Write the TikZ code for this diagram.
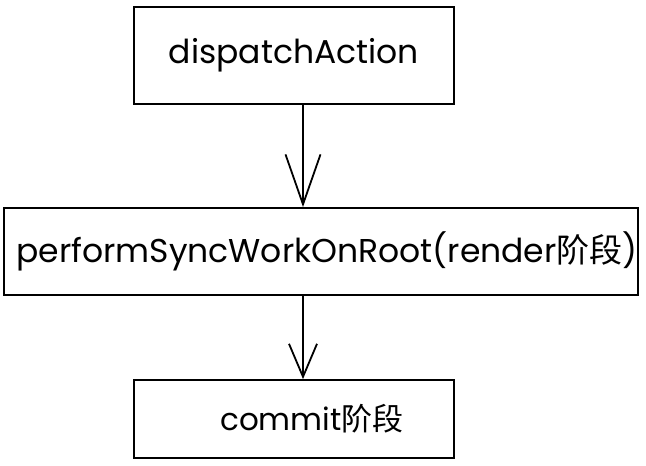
\documentclass[tikz,border=0pt]{standalone}
\usepackage{fontspec}
\setmainfont{Poppins}
\newfontfamily\cjk{Noto Sans CJK SC}
\usetikzlibrary{arrows.meta}

\tikzset{
  stage/.style={draw=black,line width=1.8pt,inner sep=0pt,font=\fontsize{33}{38}\selectfont},
  flow/.style={line width=1.5pt,-{Straight Barb[length=50pt,width=35pt,line width=1.8pt]}},
  flowshort/.style={line width=1.5pt,-{Straight Barb[length=33pt,width=28pt,line width=1.8pt]}}
}

\begin{document}
\begin{tikzpicture}[x=1pt,y=-1pt]
    \useasboundingbox (0,0) rectangle (646,466);

    \node[stage,minimum width=320pt,minimum height=97pt] (dispatch) at (294,55.5) {dispatchAction};
    \node[stage,minimum width=634pt,minimum height=87pt] (render) at (321,251.5) {\hspace*{12pt}performSyncWorkOnRoot(render{\cjk 阶段})};
    \node[stage,minimum width=320pt,minimum height=78pt,font=\fontsize{31}{36}\selectfont] (commit) at (294,419) {\hspace*{36pt}commit{\cjk 阶段}};

    \coordinate (axis) at (303,0);
    \draw[flow] (dispatch.south -| axis) -- (render.north -| axis);
    \draw[flowshort] (render.south -| axis) -- (commit.north -| axis);
  \end{tikzpicture}
\end{document}
